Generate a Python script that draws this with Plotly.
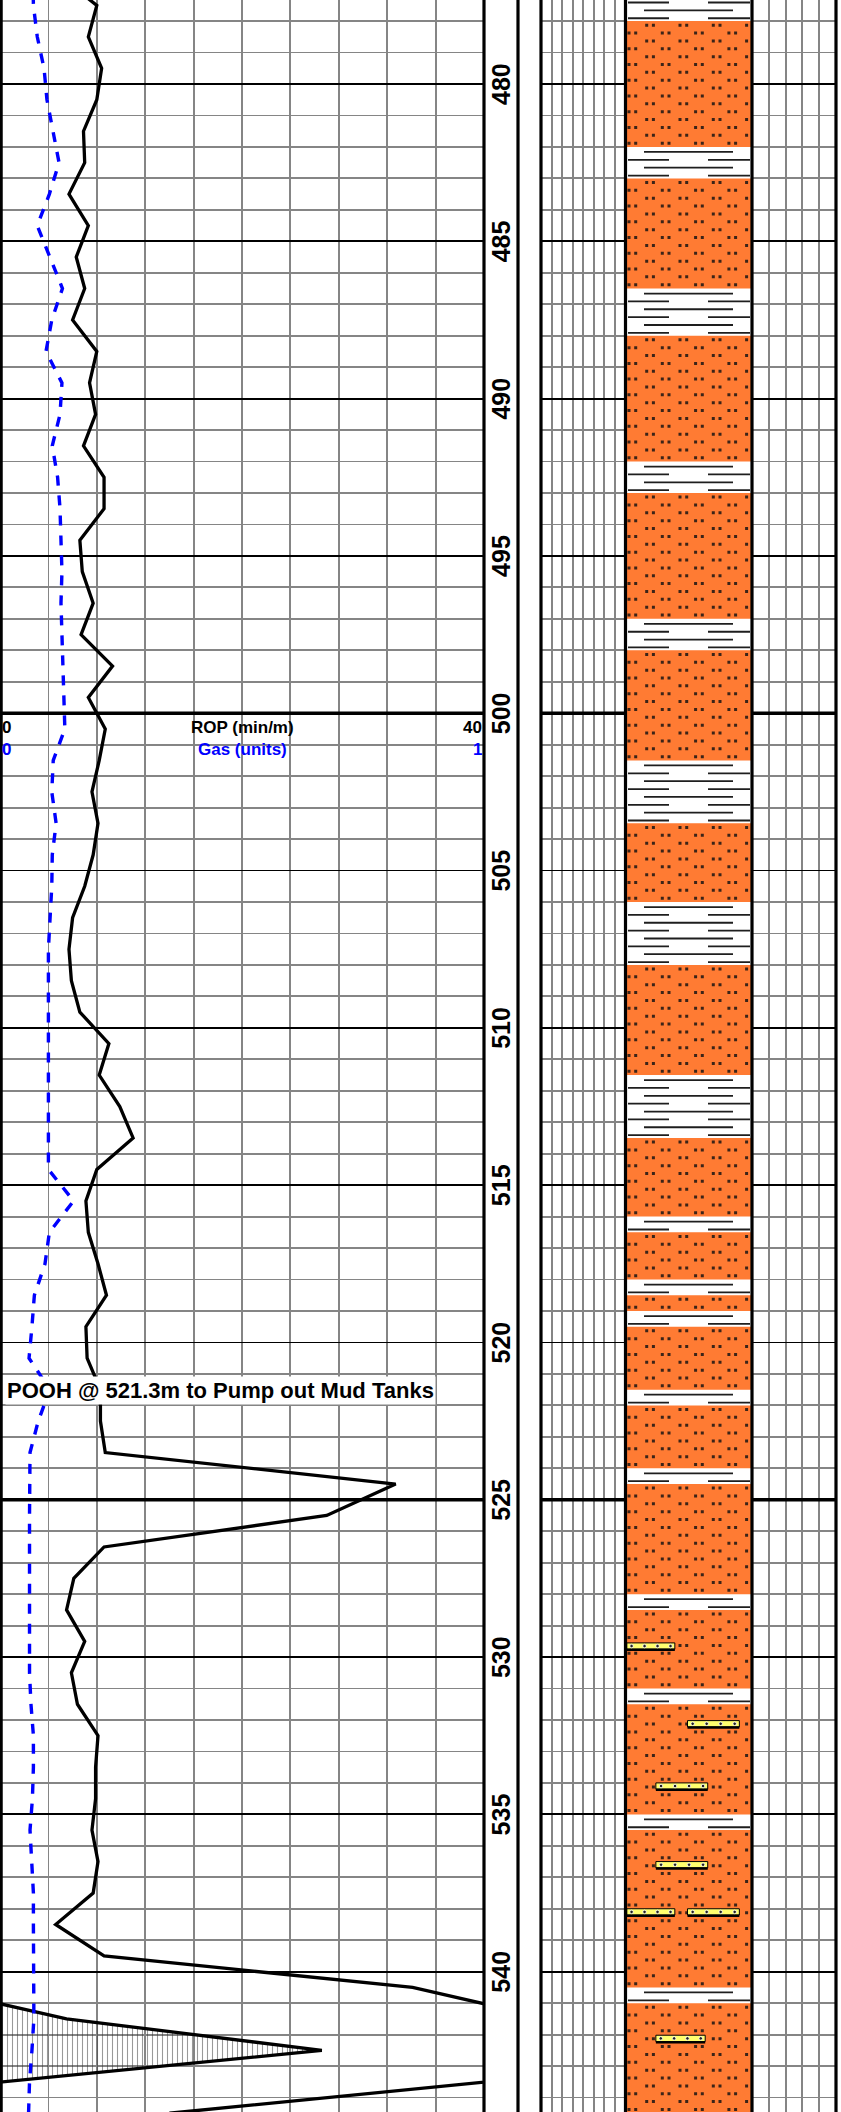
import plotly.graph_objects as go

W, H = 841, 2112
TOP, BOT = 477.33, 544.46
ROP_MAX = 40.0

# ---------------- data ----------------
depths = [476.5 + i for i in range(69)]
rop = [4.7, 8.0, 7.3, 8.4, 8.0, 6.9, 7.0, 5.7, 7.3, 6.3,
       7.0, 6.0, 8.0, 7.4, 7.9, 6.9, 8.6, 8.6, 6.6, 6.8,
       7.7, 6.7, 9.3, 7.3, 8.7, 8.2, 7.6, 8.1, 7.7, 7.0,
       6.0, 5.7, 5.9, 6.6, 9.0, 8.2, 9.9, 11.0, 8.0, 7.1,
       7.3, 8.1, 8.8, 7.1, 7.2, 8.3, 8.3, 8.7, 32.7, 27.0,
       8.6, 6.1, 5.5, 7.0, 5.9, 6.4, 8.1, 7.9, 7.9, 7.6,
       8.1, 7.7, 4.6, 8.6, 34.1, 45.5, 66.6, 40.0, 14.0]
gas = [0.068, 0.069, 0.077, 0.091, 0.097, 0.109, 0.122, 0.102, 0.077, 0.103,
       0.129, 0.107, 0.095, 0.128, 0.124, 0.108, 0.119, 0.124, 0.126, 0.128,
       0.126, 0.128, 0.130, 0.131, 0.134, 0.110, 0.107, 0.116, 0.108, 0.107,
       0.103, 0.100, 0.100, 0.100, 0.100, 0.100, 0.100, 0.100, 0.100, 0.152,
       0.102, 0.093, 0.071, 0.066, 0.060, 0.103, 0.079, 0.062, 0.061, 0.061,
       0.061, 0.061, 0.061, 0.061, 0.061, 0.064, 0.069, 0.069, 0.067, 0.062,
       0.066, 0.069, 0.069, 0.069, 0.070, 0.070, 0.066, 0.061, 0.059]

sand = [(478.0, 482.0), (483.0, 486.5), (488.0, 492.0), (493.0, 497.0),
        (498.0, 501.5), (503.5, 506.0), (508.0, 511.5), (513.5, 516.0),
        (516.5, 518.0), (518.5, 519.0), (519.5, 521.5), (522.0, 524.0),
        (524.5, 528.0), (528.5, 531.0), (531.5, 535.0), (535.5, 540.5),
        (541.0, 544.5)]
litho_top, litho_bot = 477.0, 544.5
# calcareous stringers: (top depth, left, right) as column fractions
streaks = [(529.55, 0.01, 0.39), (532.02, 0.49, 0.90), (534.0, 0.24, 0.65),
           (536.5, 0.24, 0.65), (538.0, 0.01, 0.39), (538.0, 0.49, 0.90),
           (542.02, 0.24, 0.63)]
depth_labels = list(range(480, 545, 5))
annotation_text = "POOH @ 521.3m to Pump out Mud Tanks"

# ---------------- layout helpers ----------------
def px(x):
    return x / W

D1 = [0, px(484)]
D2 = [px(484), px(518)]
D3 = [px(541), px(625.5)]
D4 = [px(625.5), px(752)]
D5 = [px(752), px(836)]

GRAY = "#858585"
FONT = "Liberation Sans, Arial, sans-serif"
NARROW = "Liberation Sans Narrow, Arial Narrow, Liberation Sans, sans-serif"

def cx(xr):
    return (xr - 625.5) / 126.5

fig = go.Figure()

# ---------------- track 1 : ROP + gas ----------------
fig.add_trace(go.Scatter(x=[v - ROP_MAX for v in rop], y=depths, xaxis="x", yaxis="y",
                         mode="lines", line=dict(color="black", width=3.3),
                         fill="tozerox", fillcolor="rgba(0,0,0,0)",
                         fillpattern=dict(shape="|", fgcolor="#333333", bgcolor="rgba(0,0,0,0)",
                                          size=5, solidity=0.22),
                         hoverinfo="skip", showlegend=False))
fig.add_trace(go.Scatter(x=rop, y=depths, xaxis="x", yaxis="y", mode="lines",
                         line=dict(color="black", width=3.3), hoverinfo="skip", showlegend=False))
fig.add_trace(go.Scatter(x=gas, y=depths, xaxis="x2", yaxis="y", mode="lines",
                         line=dict(color="#0000FF", width=3.4, dash="10px,10px"),
                         hoverinfo="skip", showlegend=False))

# empty traces to establish other subplots
for xa, ya in [("x3", "y2"), ("x4", "y3"), ("x6", "y5")]:
    fig.add_trace(go.Scatter(x=[None], y=[None], xaxis=xa, yaxis=ya, showlegend=False))

# ---------------- lithology column ----------------
sx, sy = [], []
for t, b in sand:
    sx += [0, 1, 1, 0, 0, None]
    sy += [t, t, b, b, t, None]
fig.add_trace(go.Scatter(x=sx, y=sy, xaxis="x5", yaxis="y4", mode="lines", fill="toself",
                         fillcolor="#FF7B33", line=dict(width=0, color="#FF7B33"),
                         hoverinfo="skip", showlegend=False))

# sand dots (paired, staggered rows)
dx_, dy_ = [], []
for t, b in sand:
    j = 0
    while True:
        y = t + 0.13 + 0.25 * j
        if y > b - 0.04:
            break
        xr = 646.7 if j % 2 == 0 else 629.0
        while xr < 752:
            for d in (0.0, 6.7):
                if 627.5 < xr + d < 750.5:
                    dx_.append(cx(xr + d))
                    dy_.append(y)
            xr += 33.3
        j += 1
fig.add_trace(go.Scatter(x=dx_, y=dy_, xaxis="x5", yaxis="y4", mode="markers",
                         marker=dict(size=3, color="#3b2418", symbol="square"),
                         hoverinfo="skip", showlegend=False))

# shale: complement of sand intervals
shale = []
cur = litho_top
for t, b in sand:
    if t > cur:
        shale.append((cur, t))
    cur = b
if cur < litho_bot:
    shale.append((cur, litho_bot))

lx, ly = [], []
for t, b in shale:
    c = t
    while c < b - 0.01:
        yl = c + 0.16
        ys = c + 0.41
        lx += [cx(644), cx(733), None]
        ly += [yl, yl, None]
        lx += [cx(628), cx(669), None, cx(708), cx(750), None]
        ly += [ys, ys, None, ys, ys, None]
        c += 0.5
fig.add_trace(go.Scatter(x=lx, y=ly, xaxis="x5", yaxis="y4", mode="lines",
                         line=dict(color="#1e1e1e", width=1.8), hoverinfo="skip", showlegend=False))

# stringers
stx, sty, bx, by, ptx, pty = [], [], [], [], [], []
for d, l, r in streaks:
    stx += [l, r, r, l, l, None]
    sty += [d, d, d + 0.2, d + 0.2, d, None]
    bx += [l, r, None]
    by += [d + 0.22, d + 0.22, None]
    for k in range(4):
        ptx.append(l + (r - l) * (0.1 + 0.27 * k))
        pty.append(d + 0.1)
fig.add_trace(go.Scatter(x=stx, y=sty, xaxis="x5", yaxis="y4", mode="lines", fill="toself",
                         fillcolor="#FFFF6E", line=dict(color="black", width=1),
                         hoverinfo="skip", showlegend=False))
fig.add_trace(go.Scatter(x=bx, y=by, xaxis="x5", yaxis="y4", mode="lines",
                         line=dict(color="black", width=2.5), hoverinfo="skip", showlegend=False))
fig.add_trace(go.Scatter(x=ptx, y=pty, xaxis="x5", yaxis="y4", mode="markers",
                         marker=dict(size=3.5, color="#222", line=dict(color="white", width=0.8)),
                         hoverinfo="skip", showlegend=False))

# ---------------- axes ----------------
yrange = [BOT, TOP]
ygrid = dict(range=yrange, dtick=5, tick0=0, showgrid=True, gridcolor="black", gridwidth=1.8,
             minor=dict(dtick=1, tick0=0, showgrid=True, gridcolor=GRAY, gridwidth=1.8),
             showticklabels=False, zeroline=False, ticks="", showline=False)
ynog = dict(range=yrange, showgrid=False, showticklabels=False, zeroline=False, ticks="", showline=False)

fig.update_layout(
    width=W, height=H, margin=dict(l=0, r=0, t=0, b=0), autosize=False,
    paper_bgcolor="white", plot_bgcolor="white", showlegend=False,
    font=dict(family=FONT), hovermode=False,
    xaxis=dict(domain=D1, anchor="y", range=[0, ROP_MAX], dtick=4, tick0=0, showgrid=True,
               gridcolor=GRAY, gridwidth=1.8, showticklabels=False, zeroline=False, ticks=""),
    xaxis2=dict(overlaying="x", anchor="y", range=[0, 1], visible=False),
    xaxis3=dict(domain=D2, anchor="y2", range=[0, 1], visible=False),
    xaxis4=dict(domain=D3, anchor="y3", range=[0, 8], dtick=1, tick0=0, showgrid=True,
                gridcolor=GRAY, gridwidth=2, showticklabels=False, zeroline=False, ticks=""),
    xaxis5=dict(domain=D4, anchor="y4", range=[0, 1], visible=False),
    xaxis6=dict(domain=D5, anchor="y5", range=[0, 5], dtick=1, tick0=0, showgrid=True,
                gridcolor=GRAY, gridwidth=2, showticklabels=False, zeroline=False, ticks=""),
    yaxis=dict(anchor="x", **ygrid),
    yaxis2=dict(anchor="x3", matches="y", **ynog),
    yaxis3=dict(anchor="x4", matches="y", **ygrid),
    yaxis4=dict(anchor="x5", matches="y", **ynog),
    yaxis5=dict(anchor="x6", matches="y", **ygrid),
)

# heavy 25 m lines (data-referenced so they sit between grid and traces)
shapes = []
for d in depth_labels:
    if d % 25 == 0:
        for xr, yr, xmax in [("x", "y", ROP_MAX), ("x4", "y3", 8), ("x6", "y5", 5)]:
            shapes.append(dict(type="line", xref=xr, yref=yr, x0=0, x1=xmax, y0=d, y1=d,
                               line=dict(color="black", width=3.5), layer="between"))
# track borders
for xr, xs in [("x domain", [0, 1]), ("x3 domain", [1]), ("x4 domain", [0, 1]),
               ("x5 domain", [1]), ("x6 domain", [1])]:
    for xv in xs:
        w = 5.5 if (xr == "x domain" and xv == 0) else 3.2
        shapes.append(dict(type="line", xref=xr, yref="paper", x0=xv, x1=xv, y0=0, y1=1,
                           line=dict(color="black", width=w), layer="above"))
fig.update_layout(shapes=shapes)

# ---------------- text ----------------
ann = []
for d in depth_labels:
    ann.append(dict(xref="x3", yref="y", x=0.5, y=d, text=str(d), showarrow=False,
                    textangle=-90, font=dict(size=25, color="black", family=NARROW, weight="bold")))
hdr = dict(size=17, family=FONT, weight="bold")
ann += [
    dict(xref="x", yref="y", x=0, y=500.44, xanchor="left", xshift=0, text="0", showarrow=False,
         font=dict(color="black", **hdr)),
    dict(xref="x", yref="y", x=ROP_MAX / 2, y=500.44, text="ROP (min/m)", showarrow=False,
         font=dict(color="black", **hdr)),
    dict(xref="x", yref="y", x=ROP_MAX, y=500.44, xanchor="right", text="40", showarrow=False,
         font=dict(color="black", **hdr)),
    dict(xref="x", yref="y", x=0, y=501.14, xanchor="left", text="0", showarrow=False,
         font=dict(color="#0000FF", **hdr)),
    dict(xref="x", yref="y", x=ROP_MAX / 2, y=501.14, text="Gas (units)", showarrow=False,
         font=dict(color="#0000FF", **hdr)),
    dict(xref="x", yref="y", x=ROP_MAX, y=501.14, xanchor="right", text="1", showarrow=False,
         font=dict(color="#0000FF", **hdr)),
    dict(xref="x", yref="y", x=0, y=521.53, xanchor="left", xshift=5, text=annotation_text,
         showarrow=False, bgcolor="white", borderpad=1,
         font=dict(size=22, color="black", family=FONT, weight="bold")),
]
fig.update_layout(annotations=ann)

fig.write_html("out.html", config={"displayModeBar": False, "staticPlot": True},
               post_script="document.body.style.margin='0';document.body.style.padding='0';")
